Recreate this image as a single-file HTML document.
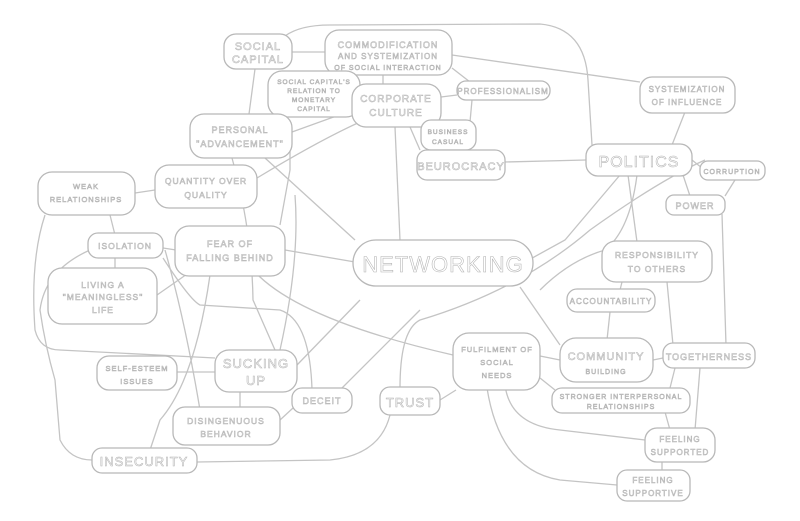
<!DOCTYPE html>
<html><head><meta charset="utf-8"><style>
html,body{margin:0;padding:0;background:#fff}
svg{display:block}
text{font-family:"Liberation Sans",sans-serif;fill:#fff;stroke:#b4b4b4;stroke-width:0.55;text-anchor:middle;letter-spacing:1px}
.l{fill:none;stroke:#c4c4c4;stroke-width:1.3}
.n{fill:#fff;stroke:#b8b8b8;stroke-width:1.3}
</style></head><body>
<svg width="800" height="521" viewBox="0 0 800 521" xmlns="http://www.w3.org/2000/svg">
<g class="l">
<path d="M285 36 Q300 25 330 25 L540 24 Q585 28 588 80 L592 145"/>
<path d="M292 52 L326 52"/>
<path d="M452 55 L640 82"/>
<path d="M383 75 L383 85"/>
<path d="M441 97 L457 95"/>
<path d="M452 68 L470 82"/>
<path d="M472 100 L470 122"/>
<path d="M255 69 L249 114"/>
<path d="M292 132 L353 110"/>
<path d="M257 178 Q320 140 360 122"/>
<path d="M410 127 L420 150"/>
<path d="M395 127 L400 240"/>
<path d="M505 162 L586 160"/>
<path d="M685 112 L672 145"/>
<path d="M620 175 L565 240 L525 262"/>
<path d="M692 160 L702 168"/>
<path d="M683 175 L690 196"/>
<path d="M735 180 L725 196"/>
<path d="M637 175 Q630 230 605 250 Q570 260 540 290"/>
<path d="M705 160 Q660 180 590 230 Q520 290 420 320 Q400 330 400 388"/>
<path d="M628 175 L637 242"/>
<path d="M722 214 L726 345"/>
<path d="M667 282 L673 345"/>
<path d="M622 282 L620 290"/>
<path d="M610 312 L607 340"/>
<path d="M653 360 L663 358"/>
<path d="M540 356 L560 360"/>
<path d="M520 287 L560 345"/>
<path d="M540 378 L555 390"/>
<path d="M675 368 L670 388"/>
<path d="M665 412 L670 430"/>
<path d="M700 368 L695 430"/>
<path d="M505 385 Q510 425 560 430 L645 440"/>
<path d="M487 388 Q500 470 560 480 L617 485"/>
<path d="M662 462 L662 470"/>
<path d="M440 400 L456 390"/>
<path d="M280 225 L290 170 L290 135"/>
<path d="M265 158 L355 240"/>
<path d="M285 250 L355 262"/>
<path d="M255 272 Q300 320 453 355"/>
<path d="M232 158 Q252 230 253 300 L275 350"/>
<path d="M135 193 L155 190"/>
<path d="M110 215 L115 235"/>
<path d="M115 258 L115 272"/>
<path d="M157 295 L200 265"/>
<path d="M163 248 L176 250"/>
<path d="M45 215 Q30 260 35 330 Q40 350 60 350 L215 358"/>
<path d="M90 250 Q45 270 40 310 Q45 345 55 380 L60 440 Q70 460 92 460"/>
<path d="M163 258 Q190 300 200 305 L280 310 Q310 320 312 390"/>
<path d="M165 250 Q185 320 200 410"/>
<path d="M210 275 Q195 380 160 420 L150 450"/>
<path d="M295 195 Q300 260 280 350"/>
<path d="M177 372 L215 372"/>
<path d="M240 392 L240 410"/>
<path d="M280 420 L293 408"/>
<path d="M297 365 L360 300"/>
<path d="M340 390 L420 310"/>
<path d="M197 462 L330 460 Q380 455 390 415"/>
</g>
<g class="n">
<rect x="224" y="34" width="68" height="35" rx="12"/>
<rect x="325" y="30" width="127" height="45" rx="14"/>
<rect x="268" y="71" width="92" height="46" rx="14"/>
<rect x="352" y="84" width="89" height="43" rx="14"/>
<rect x="457" y="81" width="93" height="19" rx="9"/>
<rect x="421" y="120" width="55" height="30" rx="10"/>
<rect x="417" y="150" width="88" height="30" rx="10"/>
<rect x="640" y="77" width="95" height="36" rx="12"/>
<rect x="586" y="144" width="106" height="32" rx="12"/>
<rect x="700" y="161" width="65" height="19" rx="8"/>
<rect x="666" y="195" width="59" height="20" rx="8"/>
<rect x="190" y="114" width="102" height="44" rx="14"/>
<rect x="155" y="165" width="102" height="43" rx="14"/>
<rect x="38" y="172" width="97" height="43" rx="14"/>
<rect x="88" y="233" width="75" height="25" rx="10"/>
<rect x="175" y="226" width="110" height="50" rx="14"/>
<rect x="48" y="268" width="109" height="56" rx="14"/>
<rect x="353" y="240" width="180" height="46" rx="23"/>
<rect x="602" y="241" width="110" height="41" rx="14"/>
<rect x="567" y="289" width="88" height="23" rx="10"/>
<rect x="560" y="338" width="93" height="44" rx="16"/>
<rect x="663" y="343" width="92" height="25" rx="10"/>
<rect x="453" y="333" width="87" height="57" rx="16"/>
<rect x="97" y="356" width="80" height="34" rx="12"/>
<rect x="215" y="350" width="82" height="42" rx="14"/>
<rect x="292" y="388" width="60" height="25" rx="10"/>
<rect x="380" y="387" width="60" height="28" rx="10"/>
<rect x="552" y="388" width="138" height="25" rx="10"/>
<rect x="173" y="407" width="107" height="38" rx="12"/>
<rect x="645" y="428" width="70" height="34" rx="12"/>
<rect x="617" y="470" width="73" height="31" rx="10"/>
<rect x="92" y="448" width="105" height="25" rx="10"/>
</g>
<g>
<text x="258" y="50" font-size="11">SOCIAL</text><text x="258" y="63" font-size="11">CAPITAL</text>
<text x="388" y="48" font-size="9">COMMODIFICATION</text><text x="388" y="59" font-size="8">AND SYSTEMIZATION</text><text x="388" y="70" font-size="7">OF SOCIAL INTERACTION</text>
<text x="314" y="84" font-size="6.5">SOCIAL CAPITAL'S</text><text x="314" y="93" font-size="6.5">RELATION TO</text><text x="314" y="102" font-size="6.5">MONETARY</text><text x="314" y="111" font-size="6.5">CAPITAL</text>
<text x="396" y="102" font-size="10">CORPORATE</text><text x="396" y="116" font-size="10">CULTURE</text>
<text x="503" y="94" font-size="8">PROFESSIONALISM</text>
<text x="448" y="134" font-size="6.5">BUSINESS</text><text x="448" y="144" font-size="6.5">CASUAL</text>
<text x="461" y="170" font-size="11">BEUROCRACY</text>
<text x="687" y="92" font-size="8">SYSTEMIZATION</text><text x="687" y="105" font-size="8">OF INFLUENCE</text>
<text x="639" y="167" font-size="16">POLITICS</text>
<text x="732" y="174" font-size="7">CORRUPTION</text>
<text x="695" y="209" font-size="9">POWER</text>
<text x="240" y="133" font-size="9">PERSONAL</text><text x="240" y="147" font-size="9">"ADVANCEMENT"</text>
<text x="206" y="184" font-size="8.5">QUANTITY OVER</text><text x="206" y="198" font-size="8.5">QUALITY</text>
<text x="86" y="189" font-size="7.5">WEAK</text><text x="86" y="202" font-size="7.5">RELATIONSHIPS</text>
<text x="125" y="249" font-size="8.5">ISOLATION</text>
<text x="230" y="247" font-size="9">FEAR OF</text><text x="230" y="261" font-size="9">FALLING BEHIND</text>
<text x="103" y="288" font-size="8.5">LIVING A</text><text x="103" y="300" font-size="8.5">"MEANINGLESS"</text><text x="103" y="313" font-size="8.5">LIFE</text>
<text x="443" y="272" font-size="22">NETWORKING</text>
<text x="657" y="258" font-size="8.5">RESPONSIBILITY</text><text x="657" y="272" font-size="8.5">TO OTHERS</text>
<text x="611" y="304" font-size="8">ACCOUNTABILITY</text>
<text x="606" y="360" font-size="11">COMMUNITY</text><text x="606" y="374" font-size="7">BUILDING</text>
<text x="709" y="360" font-size="9">TOGETHERNESS</text>
<text x="497" y="352" font-size="7.5">FULFILMENT OF</text><text x="497" y="365" font-size="7.5">SOCIAL</text><text x="497" y="378" font-size="7.5">NEEDS</text>
<text x="137" y="371" font-size="7.5">SELF-ESTEEM</text><text x="137" y="384" font-size="7.5">ISSUES</text>
<text x="256" y="368" font-size="13">SUCKING</text><text x="256" y="385" font-size="13">UP</text>
<text x="322" y="404" font-size="9">DECEIT</text>
<text x="410" y="407" font-size="13">TRUST</text>
<text x="621" y="399" font-size="7">STRONGER INTERPERSONAL</text><text x="621" y="409" font-size="7">RELATIONSHIPS</text>
<text x="226" y="424" font-size="8.5">DISINGENUOUS</text><text x="226" y="437" font-size="8.5">BEHAVIOR</text>
<text x="680" y="442" font-size="8">FEELING</text><text x="680" y="455" font-size="8">SUPPORTED</text>
<text x="653" y="483" font-size="8">FEELING</text><text x="653" y="496" font-size="8">SUPPORTIVE</text>
<text x="144" y="466" font-size="13">INSECURITY</text>
</g>
</svg>
</body></html>
